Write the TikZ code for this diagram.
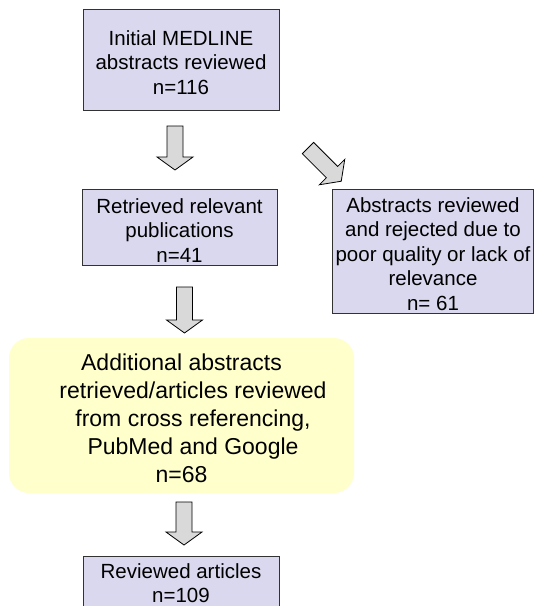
\documentclass[tikz,border=0pt]{standalone}
\usepackage{fontspec}
\setmainfont{Liberation Sans}
\definecolor{boxfill}{RGB}{218,216,238}
\definecolor{boxline}{RGB}{50,50,50}
\definecolor{yfill}{RGB}{255,255,204}
\definecolor{afill}{RGB}{217,217,217}
\newcommand{\tstrut}{\rule{0pt}{21pt}}
\tikzset{
  box/.style={draw=boxline, line width=0.9pt, fill=boxfill, inner sep=0pt, align=center,
    font=\fontsize{20.5}{24.5}\selectfont},
  ybox/.style={fill=yfill, rounded corners=20pt, inner sep=0pt},
  ytext/.style={align=center, inner sep=0pt, font=\fontsize{23}{28}\selectfont},
  blockarrow/.style={draw=black, line width=0.8pt, fill=afill, line join=miter},
}
\newcommand{\blockarr}[3]{%
  \draw[blockarrow, shift={(#1)}, rotate=#2]
    (-8,0) -- (-8,{-#3+13}) -- (-18,{-#3+13}) -- (0,-#3) -- (18,{-#3+13}) -- (8,{-#3+13}) -- (8,0) -- cycle;}
\begin{document}
\begin{tikzpicture}[x=1pt, y=1pt]
  \useasboundingbox (0,0) rectangle (535,-606);
  \clip (0,0) rectangle (535,-606);

  \node[box, minimum width=196pt, minimum height=101pt] (init) at (181,-59.5)
    {\tstrut Initial MEDLINE\\abstracts reviewed\\n=116};
  \node[box, minimum width=195pt, minimum height=76pt] (retr) at (179.5,-227)
    {\tstrut Retrieved relevant\\publications\\n=41};
  \node[box, minimum width=201pt, minimum height=124pt] (rej) at (433,-251)
    {\tstrut Abstracts reviewed\\and rejected due to\\poor quality or lack of\\relevance\\n= 61};
  \node[ybox, minimum width=345pt, minimum height=155pt] (add) at (181.5,-415.5) {};
  \node[ytext] (addtext) at (193,-418)
    {Additional abstracts\hspace*{23pt}\\retrieved/articles reviewed\\from cross referencing,\\PubMed and Google\\n=68\hspace*{23pt}};
  \node[box, minimum width=196pt, minimum height=54pt] (rev) at (181,-583)
    {Reviewed articles\\n=109};

  \coordinate (a1) at (175,-126);
  \coordinate (a2) at (308,-148);
  \coordinate (a3) at (184.5,-287);
  \coordinate (a4) at (184,-502);
  \blockarr{a1}{0}{44}
  \blockarr{a2}{45}{47}
  \blockarr{a3}{0}{46}
  \blockarr{a4}{0}{43}
\end{tikzpicture}
\end{document}
